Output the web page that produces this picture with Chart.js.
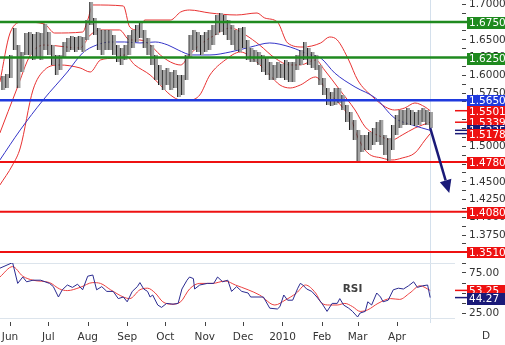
<!DOCTYPE html>
<html lang="en">
<head>
<meta charset="UTF-8">
<title>GBP/USD daily</title>
<script src="https://cdn.jsdelivr.net/npm/chart.js"></script>
<style>
  html, body { margin: 0; padding: 0; background: #fff; }
  #wrap { position: relative; width: 505px; height: 345px; overflow: hidden; }
  canvas { position: absolute; left: 0; }
  #price { top: 0; }
  #rsi { top: 258px; }
</style>
</head>
<body>
<div id="wrap">
  <canvas id="price" width="505" height="258"></canvas>
  <canvas id="rsi" width="505" height="87"></canvas>
</div>
<script>
// x values are calendar days counted from 1 Jun 2009
const monthDays = [0, 30, 61, 92, 122, 153, 183, 214, 245, 273, 304];
const monthLabels = ['Jun', 'Jul', 'Aug', 'Sep', 'Oct', 'Nov', 'Dec', '2010', 'Feb', 'Mar', 'Apr'];

// price bars (high / low)
const barDays = [-6,-3,0,3,6,9,12,15,18,21,24,27,30,33,36,39,42,45,48,51,54,57,60,63,66,69,72,75,78,81,
  84,87,90,93,96,99,102,105,108,111,114,117,120,123,126,129,132,135,138,141,144,147,150,153,156,159,162,165,168,171,
  174,177,180,183,186,189,192,195,198,201,204,207,210,213,216,219,222,225,228,231,234,237,240,243,246,249,252,255,258,261,
  264,267,270,273,276,279,282,285,288,291,294,297,300,303,306,309,312,315,318,321,324,327,330];
const barHigh = [1.5990,1.6018,1.6286,1.6666,1.6426,1.6328,1.6595,1.6609,1.6581,1.6609,1.6595,1.6722,1.6609,1.6426,1.6286,1.6286,1.6469,1.6525,1.6553,1.6539,
  1.6553,1.6539,1.6778,1.7032,1.6807,1.6666,1.6638,1.6638,1.6638,1.6567,1.6426,1.6384,1.6426,1.6567,1.6638,1.6708,1.6750,1.6638,1.6525,1.6426,
  1.6286,1.6145,1.6074,1.6103,1.6046,1.6074,1.6004,1.6004,1.6286,1.6567,1.6638,1.6609,1.6567,1.6609,1.6638,1.6708,1.6849,1.6877,1.6849,1.6778,
  1.6708,1.6638,1.6666,1.6680,1.6497,1.6384,1.6356,1.6328,1.6286,1.6243,1.6187,1.6145,1.6187,1.6159,1.6215,1.6187,1.6187,1.6286,1.6356,1.6469,
  1.6384,1.6328,1.6286,1.6145,1.5962,1.5821,1.5765,1.5821,1.5821,1.5722,1.5582,1.5483,1.5370,1.5230,1.5159,1.5159,1.5201,1.5258,1.5342,1.5370,
  1.5159,1.5117,1.5300,1.5441,1.5511,1.5511,1.5539,1.5511,1.5483,1.5511,1.5539,1.5511,1.5483];
const barLow = [1.5793,1.5821,1.5962,1.6356,1.5821,1.6046,1.6286,1.6286,1.6215,1.6243,1.6215,1.6356,1.6286,1.6145,1.6004,1.6074,1.6243,1.6328,1.6356,1.6328,
  1.6356,1.6328,1.6497,1.6708,1.6567,1.6356,1.6286,1.6356,1.6356,1.6286,1.6187,1.6145,1.6215,1.6286,1.6384,1.6469,1.6525,1.6384,1.6286,1.6145,
  1.5934,1.5863,1.5793,1.5863,1.5793,1.5821,1.5694,1.5722,1.5934,1.6243,1.6356,1.6328,1.6286,1.6328,1.6356,1.6426,1.6567,1.6609,1.6567,1.6497,
  1.6426,1.6356,1.6328,1.6384,1.6215,1.6187,1.6187,1.6145,1.6046,1.6004,1.5934,1.5934,1.5962,1.5962,1.5934,1.5905,1.5905,1.6074,1.6145,1.6215,
  1.6145,1.6103,1.6074,1.5863,1.5722,1.5582,1.5567,1.5582,1.5610,1.5511,1.5342,1.5230,1.5089,1.4785,1.4920,1.4948,1.4948,1.5018,1.5061,1.5018,
  1.4878,1.4785,1.4948,1.5159,1.5258,1.5300,1.5300,1.5300,1.5286,1.5300,1.5342,1.5300,1.5258];

// long moving average (blue)
const maDays = [-8,8,26,45,57,68,79,90,102,114,124,132,143,157,173,189,204,220,236,244,255,271,287,302,316,330];
const maVals = [1.4807,1.5230,1.5652,1.6046,1.6314,1.6426,1.6469,1.6469,1.6455,1.6469,1.6426,1.6356,1.6286,1.6286,1.6328,1.6398,1.6455,1.6398,1.6286,1.6243,1.6032,1.5835,1.5680,1.5399,1.5300,1.5225];

// Bollinger bands (red)
const upDays = [-8,0,10,27,35,57,61,65,89,94,100,106,126,134,141,157,178,194,200,210,218,230,244,251,257,266,273,285,295,302,310,318,326,330];
const upVals = [1.5905,1.6595,1.6750,1.6722,1.6595,1.6609,1.6778,1.6990,1.6976,1.6680,1.6638,1.6778,1.6778,1.6891,1.6919,1.6877,1.6849,1.6877,1.6807,1.6750,
  1.6455,1.6398,1.6455,1.6539,1.6497,1.6215,1.5934,1.5694,1.5553,1.5511,1.5539,1.5610,1.5553,1.5501];
const midDays = [-8,5,16,27,55,63,71,86,94,102,110,118,126,134,141,149,161,173,185,196,208,220,228,240,247,259,271,279,292,300,308,318,330];
const midVals = [1.5187,1.5793,1.6286,1.6426,1.6384,1.6567,1.6638,1.6638,1.6497,1.6497,1.6426,1.6286,1.6187,1.6145,1.6286,1.6426,1.6567,1.6666,1.6567,1.6426,
  1.6243,1.6145,1.6145,1.6215,1.6074,1.5793,1.5511,1.5272,1.5131,1.5089,1.5159,1.5258,1.5339];
const loDays = [-8,2,8,18,27,39,55,63,71,82,90,98,110,118,126,134,141,149,157,169,181,192,204,212,220,228,240,250,261,269,273,281,292,300,308,318,326,330];
const loVals = [1.4455,1.4737,1.4976,1.5793,1.6074,1.6145,1.6103,1.6046,1.6215,1.6243,1.6286,1.6145,1.6004,1.5863,1.5722,1.5652,1.5652,1.5722,1.6004,1.6215,
  1.6328,1.6215,1.6004,1.5863,1.5821,1.5863,1.5976,1.5751,1.5553,1.5328,1.5131,1.4906,1.4835,1.4807,1.4835,1.4906,1.5089,1.5178];

// horizontal levels
const resistance = [1.6750, 1.6250];
const pivot = [1.5650];
const support = [1.4780, 1.4080, 1.3510];

// forecast arrow
const arrowFrom = { day: 330, price: 1.5258 };
const arrowTo = { day: 345, price: 1.4343 };

// RSI panel
const rsiDays = [-8,2,6,10,13,18,24,31,34,38,41,45,49,53,57,61,65,68,72,76,81,85,89,92,96,100,102,105,108,110,
  112,116,119,123,128,132,135,139,141,144,145,149,155,160,163,167,171,174,178,182,187,189,199,204,210,212,215,218,222,226,
  228,230,233,237,241,245,249,253,257,259,262,266,269,273,275,279,281,284,288,291,293,297,301,305,309,313,317,320,324,328,330];
const rsiVals = [81,88,62,70,64,66,66,62,58,45,54,60,57,61,54,71,72.5,54,58,52,52,43,45,39,52,58,63,55,52,45,
  47.5,35,32,37,36,37,55,66,70,68,55,60,62,62,70,64,66,52,58,52,50,45,45,31,30,33,47.5,41,41,56,
  62,60,55,52,45,37,27,37,37,43,35,31,27,20,25,27,39,35,50,45,39,41,54,56,55,59,64,57,59,60,44.27];
const sigDays = [-8,2,10,18,31,39,45,55,65,71,79,89,94,102,108,114,120,127,134,141,149,159,169,177,187,196,208,216,225,232,
  240,245,251,257,263,269,275,281,289,299,306,314,322,330];
const sigVals = [70,83,71,66,63,55,53,57,63,62,54,45,43,54,56,50,39,36,39,55,62,62,65,60,54,47.5,35,41,50,60,
  50,37,35,35,37,33,27,29,37,43,42,50,59,53.25];
const rsiTicks = [25, 50, 75];

const lastDay = 330;
const X_MIN = -7.9, X_MAX = 355;
const FONT = '"DejaVu Sans", Verdana, sans-serif';
const RED = '#ee1111', NAVY = '#1a1a78', GREEN = '#1f8a1f', BLUE = '#1f3ade';

const pts = (xs, ys) => xs.map((d, i) => ({ x: d, y: ys[i] }));
const last = a => a[a.length - 1];

function valueBox(ctx, yPix, text, fill, x0, x1) {
  const yy = Math.round(yPix);
  ctx.fillStyle = fill;
  ctx.fillRect(x0, yy - 5, x1 - x0, 12);
  ctx.fillStyle = '#fff';
  ctx.font = '10.5px ' + FONT;
  ctx.textAlign = 'left';
  ctx.textBaseline = 'middle';
  ctx.fillText(text, x0 + 2, yy + 1.5);
}
function stub(ctx, yPix, color, x0, x1) {
  ctx.strokeStyle = color;
  ctx.lineWidth = 1.5;
  ctx.beginPath();
  ctx.moveTo(x0, yPix);
  ctx.lineTo(x1, yPix);
  ctx.stroke();
}
function lastLine(chart, bottom) {
  const { ctx, scales: { x } } = chart;
  const lx = Math.round(x.getPixelForValue(lastDay)) + 0.5;
  ctx.save();
  ctx.strokeStyle = '#d4e0ec';
  ctx.lineWidth = 1;
  ctx.beginPath();
  ctx.moveTo(lx, 0);
  ctx.lineTo(lx, bottom);
  ctx.stroke();
  ctx.restore();
}

const levelSets = [
  { values: resistance, color: GREEN, width: 2.5 },
  { values: pivot, color: BLUE, width: 2.5 },
  { values: support, color: RED, width: 2 }
];

const priceOverlay = {
  id: 'priceOverlay',
  beforeDatasetsDraw(chart) {
    lastLine(chart, chart.height);
  },
  afterDatasetsDraw(chart) {
    const { ctx, chartArea, scales: { x, y } } = chart;
    const boxLeft = chartArea.right + 5;
    ctx.save();
    levelSets.forEach(s => s.values.forEach(v => {
      const py = y.getPixelForValue(v);
      ctx.strokeStyle = s.color;
      ctx.lineWidth = s.width;
      ctx.beginPath();
      ctx.moveTo(chartArea.left, py);
      ctx.lineTo(boxLeft, py);
      ctx.stroke();
    }));
    // forecast arrow
    const x1 = x.getPixelForValue(arrowFrom.day), y1 = y.getPixelForValue(arrowFrom.price);
    const x2 = x.getPixelForValue(arrowTo.day), y2 = y.getPixelForValue(arrowTo.price);
    const ang = Math.atan2(y2 - y1, x2 - x1);
    const head = 13, half = 6;
    const bx = x2 - head * Math.cos(ang), by = y2 - head * Math.sin(ang);
    ctx.strokeStyle = NAVY;
    ctx.fillStyle = NAVY;
    ctx.lineWidth = 2.5;
    ctx.beginPath();
    ctx.moveTo(x1, y1);
    ctx.lineTo(bx, by);
    ctx.stroke();
    ctx.beginPath();
    ctx.moveTo(x2, y2);
    ctx.lineTo(bx + half * Math.sin(ang), by - half * Math.cos(ang));
    ctx.lineTo(bx - half * Math.sin(ang), by + half * Math.cos(ang));
    ctx.closePath();
    ctx.fill();
    ctx.restore();
  },
  afterDraw(chart) {
    const { ctx, chartArea, scales: { y } } = chart;
    const x0 = chartArea.right + 5, x1 = chart.width;
    ctx.save();
    levelSets.forEach(s => s.values.forEach(v => {
      valueBox(ctx, y.getPixelForValue(v), v.toFixed(4), s.color, x0, x1);
    }));
    const tags = [
      { v: last(upVals), c: RED, line: RED },
      { v: last(midVals), c: RED, line: RED },
      { v: last(maVals), c: NAVY, line: NAVY },
      { v: last(loVals), c: RED, line: NAVY }
    ];
    tags.forEach(t => {
      const py = y.getPixelForValue(t.v);
      stub(ctx, py, t.line, x0 - 12, x0);
      valueBox(ctx, py, t.v.toFixed(4), t.c, x0, x1);
    });
    ctx.restore();
  }
};

const rsiOverlay = {
  id: 'rsiOverlay',
  beforeDatasetsDraw(chart) {
    const { ctx, chartArea, scales: { x } } = chart;
    lastLine(chart, chartArea.bottom + 5);
    ctx.save();
    ctx.strokeStyle = '#dce4ec';
    ctx.lineWidth = 1;
    [chartArea.top, chartArea.bottom].forEach(py => {
      ctx.beginPath();
      ctx.moveTo(chartArea.left, Math.round(py) + 0.5);
      ctx.lineTo(chartArea.right - 7, Math.round(py) + 0.5);
      ctx.stroke();
    });
    // month tick marks, a little below the panel
    ctx.strokeStyle = '#444';
    monthDays.forEach(d => {
      const px = Math.round(x.getPixelForValue(d)) + 0.5;
      ctx.beginPath();
      ctx.moveTo(px, chartArea.bottom + 4);
      ctx.lineTo(px, chartArea.bottom + 8);
      ctx.stroke();
    });
    ctx.restore();
  },
  afterDraw(chart) {
    const { ctx, chartArea, scales: { x, y } } = chart;
    const x0 = chartArea.right + 5, x1 = chart.width;
    ctx.save();
    // axis labels of the RSI scale
    ctx.fillStyle = '#333';
    ctx.font = '10.5px ' + FONT;
    ctx.textAlign = 'left';
    ctx.textBaseline = 'middle';
    rsiTicks.forEach(v => ctx.fillText(v.toFixed(2), x0 + 2, y.getPixelForValue(v) + 0.5));
    ctx.fillStyle = '#404040';
    ctx.font = 'bold 10.5px ' + FONT;
    ctx.textAlign = 'center';
    ctx.fillText('RSI', x.getPixelForValue(269), y.getPixelForValue(55));
    [{ v: last(sigVals), c: RED }, { v: last(rsiVals), c: NAVY }].forEach(t => {
      const py = y.getPixelForValue(t.v);
      stub(ctx, py, t.c, x0 - 12, x0);
      valueBox(ctx, py, t.v.toFixed(2), t.c, x0, x1);
    });
    ctx.fillStyle = '#333';
    ctx.font = '10.5px ' + FONT;
    ctx.textAlign = 'center';
    ctx.textBaseline = 'top';
    ctx.fillText('D', 486, chartArea.bottom + 13);
    ctx.restore();
  }
};

const tickFont = { family: FONT, size: 10.5 };
const isStep = (v, step) => Math.abs(v / step - Math.round(v / step)) < 1e-6;

function rightAxis(min, max, step, major, digits, showLabels) {
  return {
    type: 'linear', position: 'right', min: min, max: max,
    afterFit(s) { s.width = 43; s.paddingTop = 0; s.paddingBottom = 0; },
    ticks: {
      stepSize: step, includeBounds: false, autoSkip: false, padding: 3,
      color: '#333', font: tickFont,
      callback: v => (showLabels && isStep(v, major)) ? v.toFixed(digits) : ''
    },
    grid: { drawOnChartArea: false, drawTicks: true, tickLength: 4, tickColor: '#444' },
    border: { display: false }
  };
}

const lineStyle = (color, smooth) => ({
  type: 'line', borderColor: color, borderWidth: 1, pointRadius: 0,
  cubicInterpolationMode: smooth ? 'monotone' : 'default', tension: 0, fill: false
});
const barRanges = barDays.map((d, i) => ({ x: d, y: [barLow[i], barHigh[i]] }));

new Chart(document.getElementById('price'), {
  type: 'line',
  data: {
    datasets: [
      { type: 'bar', data: barRanges, backgroundColor: '#1e1e1e', barThickness: 1, inflateAmount: 0 },
      { type: 'bar', data: barRanges, backgroundColor: '#a4a4a4', barThickness: 2.8, inflateAmount: 0 },
      Object.assign({ data: pts(maDays, maVals) }, lineStyle('#3535c8', true)),
      Object.assign({ data: pts(upDays, upVals) }, lineStyle('#e83232', true)),
      Object.assign({ data: pts(midDays, midVals) }, lineStyle('#e83232', true)),
      Object.assign({ data: pts(loDays, loVals) }, lineStyle('#e83232', true))
    ]
  },
  options: {
    responsive: false, animation: false, devicePixelRatio: 1,
    layout: { padding: 0 },
    plugins: { legend: { display: false }, tooltip: { enabled: false } },
    scales: {
      x: { type: 'linear', min: X_MIN, max: X_MAX, display: false, offset: false },
      y: rightAxis(1.3427, 1.7060, 0.0125, 0.025, 4, true)
    }
  },
  plugins: [priceOverlay]
});

new Chart(document.getElementById('rsi'), {
  type: 'line',
  data: {
    datasets: [
      Object.assign({ data: pts(rsiDays, rsiVals) }, lineStyle('#2a2a90', false)),
      Object.assign({ data: pts(sigDays, sigVals) }, lineStyle('#ec4040', true))
    ]
  },
  options: {
    responsive: false, animation: false, devicePixelRatio: 1,
    layout: { padding: { top: 5, left: 0, right: 0, bottom: 0 } },
    plugins: { legend: { display: false }, tooltip: { enabled: false } },
    scales: {
      x: {
        type: 'linear', min: X_MIN, max: X_MAX, offset: false,
        afterBuildTicks(s) { s.ticks = monthDays.map(v => ({ value: v })); },
        afterFit(s) { s.height = 27; s.paddingLeft = 0; s.paddingRight = 0; },
        ticks: {
          autoSkip: false, maxRotation: 0, padding: 5, color: '#333', font: tickFont,
          callback: v => monthLabels[monthDays.indexOf(v)]
        },
        grid: { drawOnChartArea: false, drawTicks: true, tickLength: 8, tickColor: 'rgba(0,0,0,0)' },
        border: { display: false }
      },
      y: rightAxis(18.75, 87.5, 12.5, 25, 2, false)
    }
  },
  plugins: [rsiOverlay]
});
</script>
</body>
</html>
